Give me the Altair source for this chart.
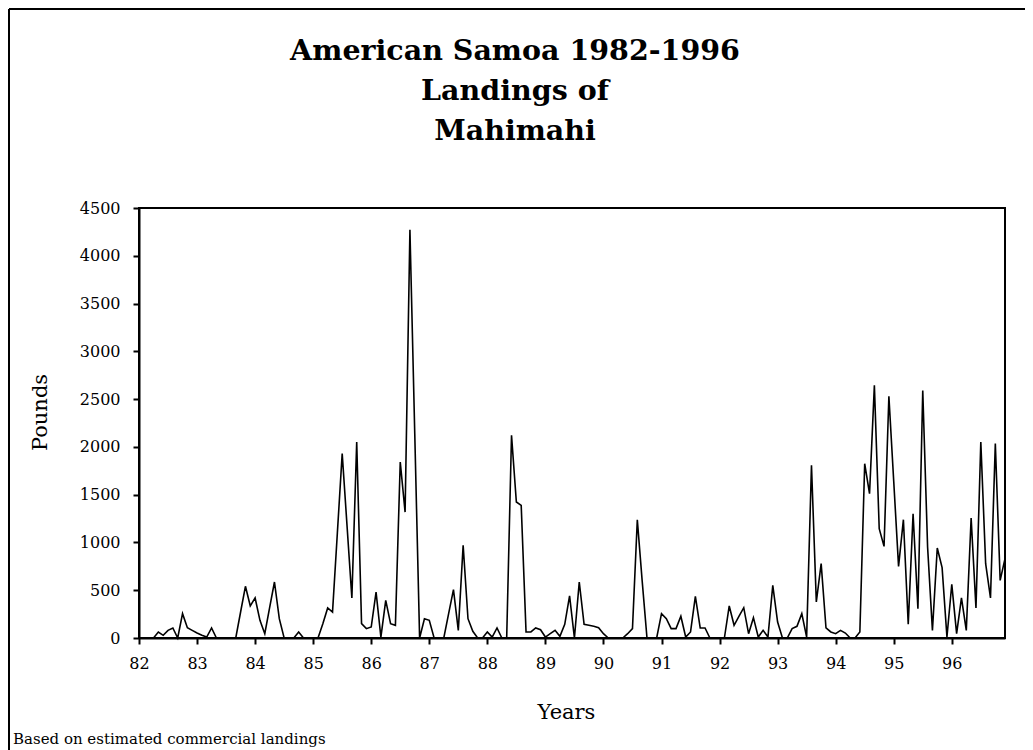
import altair as alt
import pandas as pd

# Monthly landings (pounds), Jan..Dec for each year 1982-1996
y82 = [0, 0, 0, 0, 63, 28, 80, 105, 0, 255, 108, 80]
y83 = [52, 28, 10, 105, 0, 0, 0, 0, 0, 272, 541, 335]
y84 = [419, 185, 45, 317, 586, 202, 0, 0, 0, 63, 0, 0]
y85 = [0, 0, 150, 314, 272, 1099, 1929, 1175, 419, 2051, 150, 98]
y86 = [115, 481, 10, 394, 150, 133, 1842, 1318, 4273, 2138, 0, 202]
y87 = [185, 0, 0, 0, 255, 506, 80, 970, 202, 70, 0, 0]
y88 = [63, 10, 105, 0, 0, 2121, 1423, 1388, 63, 63, 105, 87]
y89 = [10, 45, 80, 17, 143, 440, 0, 586, 143, 133, 122, 108]
y90 = [45, 0, 0, 0, 0, 45, 98, 1238, 600, 0, 0, 0]
y91 = [255, 202, 98, 98, 227, 10, 63, 436, 105, 105, 0, 0]
y92 = [0, 0, 335, 133, 227, 317, 45, 213, 10, 80, 10, 551]
y93 = [167, 0, 0, 98, 122, 255, 10, 1807, 377, 778, 105, 63]
y94 = [45, 80, 52, 0, 0, 63, 1824, 1510, 2644, 1144, 959, 2529]
y95 = [1640, 750, 1238, 143, 1301, 307, 2590, 952, 80, 942, 736, 10]
y96 = [562, 45, 419, 80, 1256, 314, 2051, 778, 419, 2034, 603, 830]

year_labels = list(range(82, 97))
series = [y82, y83, y84, y85, y86, y87, y88, y89, y90, y91, y92, y93, y94, y95, y96]
y_ticks = list(range(0, 4501, 500))

title_lines = ["American Samoa 1982-1996", "Landings of", "Mahimahi"]
footnote = "Based on estimated commercial landings"

rows = []
for yr, vals in zip(year_labels, series):
    for m, v in enumerate(vals):
        rows.append({"t": yr + m / 12.0, "pounds": v})
df = pd.DataFrame(rows)

FONT = "DejaVu Serif"

line = alt.Chart(df).mark_line(color="black", strokeWidth=1.6).encode(
    x=alt.X(
        "t:Q",
        scale=alt.Scale(domain=[82, 96 + 11 / 12], nice=False, zero=False),
        axis=alt.Axis(
            values=year_labels, format="d", title="Years",
            labelFlush=False, labelPadding=11, tickSize=6,
            titleX=427, titleY=74, titleAlign="center", titleBaseline="middle",
        ),
    ),
    y=alt.Y(
        "pounds:Q",
        scale=alt.Scale(domain=[0, 4500], nice=False),
        axis=alt.Axis(
            values=y_ticks, format="d", title="Pounds", labelFlush=False,
            labelPadding=13, tickSize=6,
            titleX=-99, titleY=204, titleAlign="center", titleBaseline="middle",
            titleAngle=270,
        ),
    ),
)

frame_data = alt.Data(values=[{"a": 1}])
top_rule = alt.Chart(frame_data).mark_rule(color="black", strokeWidth=2).encode(
    x=alt.value(-130), x2=alt.value(886), y=alt.value(-199)
)
left_rule = alt.Chart(frame_data).mark_rule(color="black", strokeWidth=2).encode(
    x=alt.value(-130), y=alt.value(-199), y2=alt.value(545)
)
note = alt.Chart(frame_data).mark_text(
    align="left", baseline="alphabetic", font=FONT, fontSize=15, color="black"
).encode(x=alt.value(-126), y=alt.value(536), text=alt.value(footnote))

chart = alt.layer(line, top_rule, left_rule, note).properties(
    width=866,
    height=430,
    padding={"left": 131, "top": 200, "right": 20, "bottom": 112},
    autosize=alt.AutoSizeParams(type="none"),
    title=alt.TitleParams(
        text=title_lines, font=FONT, fontSize=28.5, fontWeight="bold",
        lineHeight=40, anchor="middle", dx=-57, offset=-166, frame="group",
        baseline="bottom", color="black",
    ),
).configure_view(
    stroke="black", strokeWidth=2
).configure_axis(
    domainColor="black", domainWidth=2, tickColor="black", tickWidth=2,
    labelFont=FONT, labelFontSize=16, labelColor="black",
    titleFont=FONT, titleFontSize=21, titleFontWeight="normal", titleColor="black",
    grid=False,
)

chart.save("out.html", embed_options={"renderer": "svg", "actions": False})
